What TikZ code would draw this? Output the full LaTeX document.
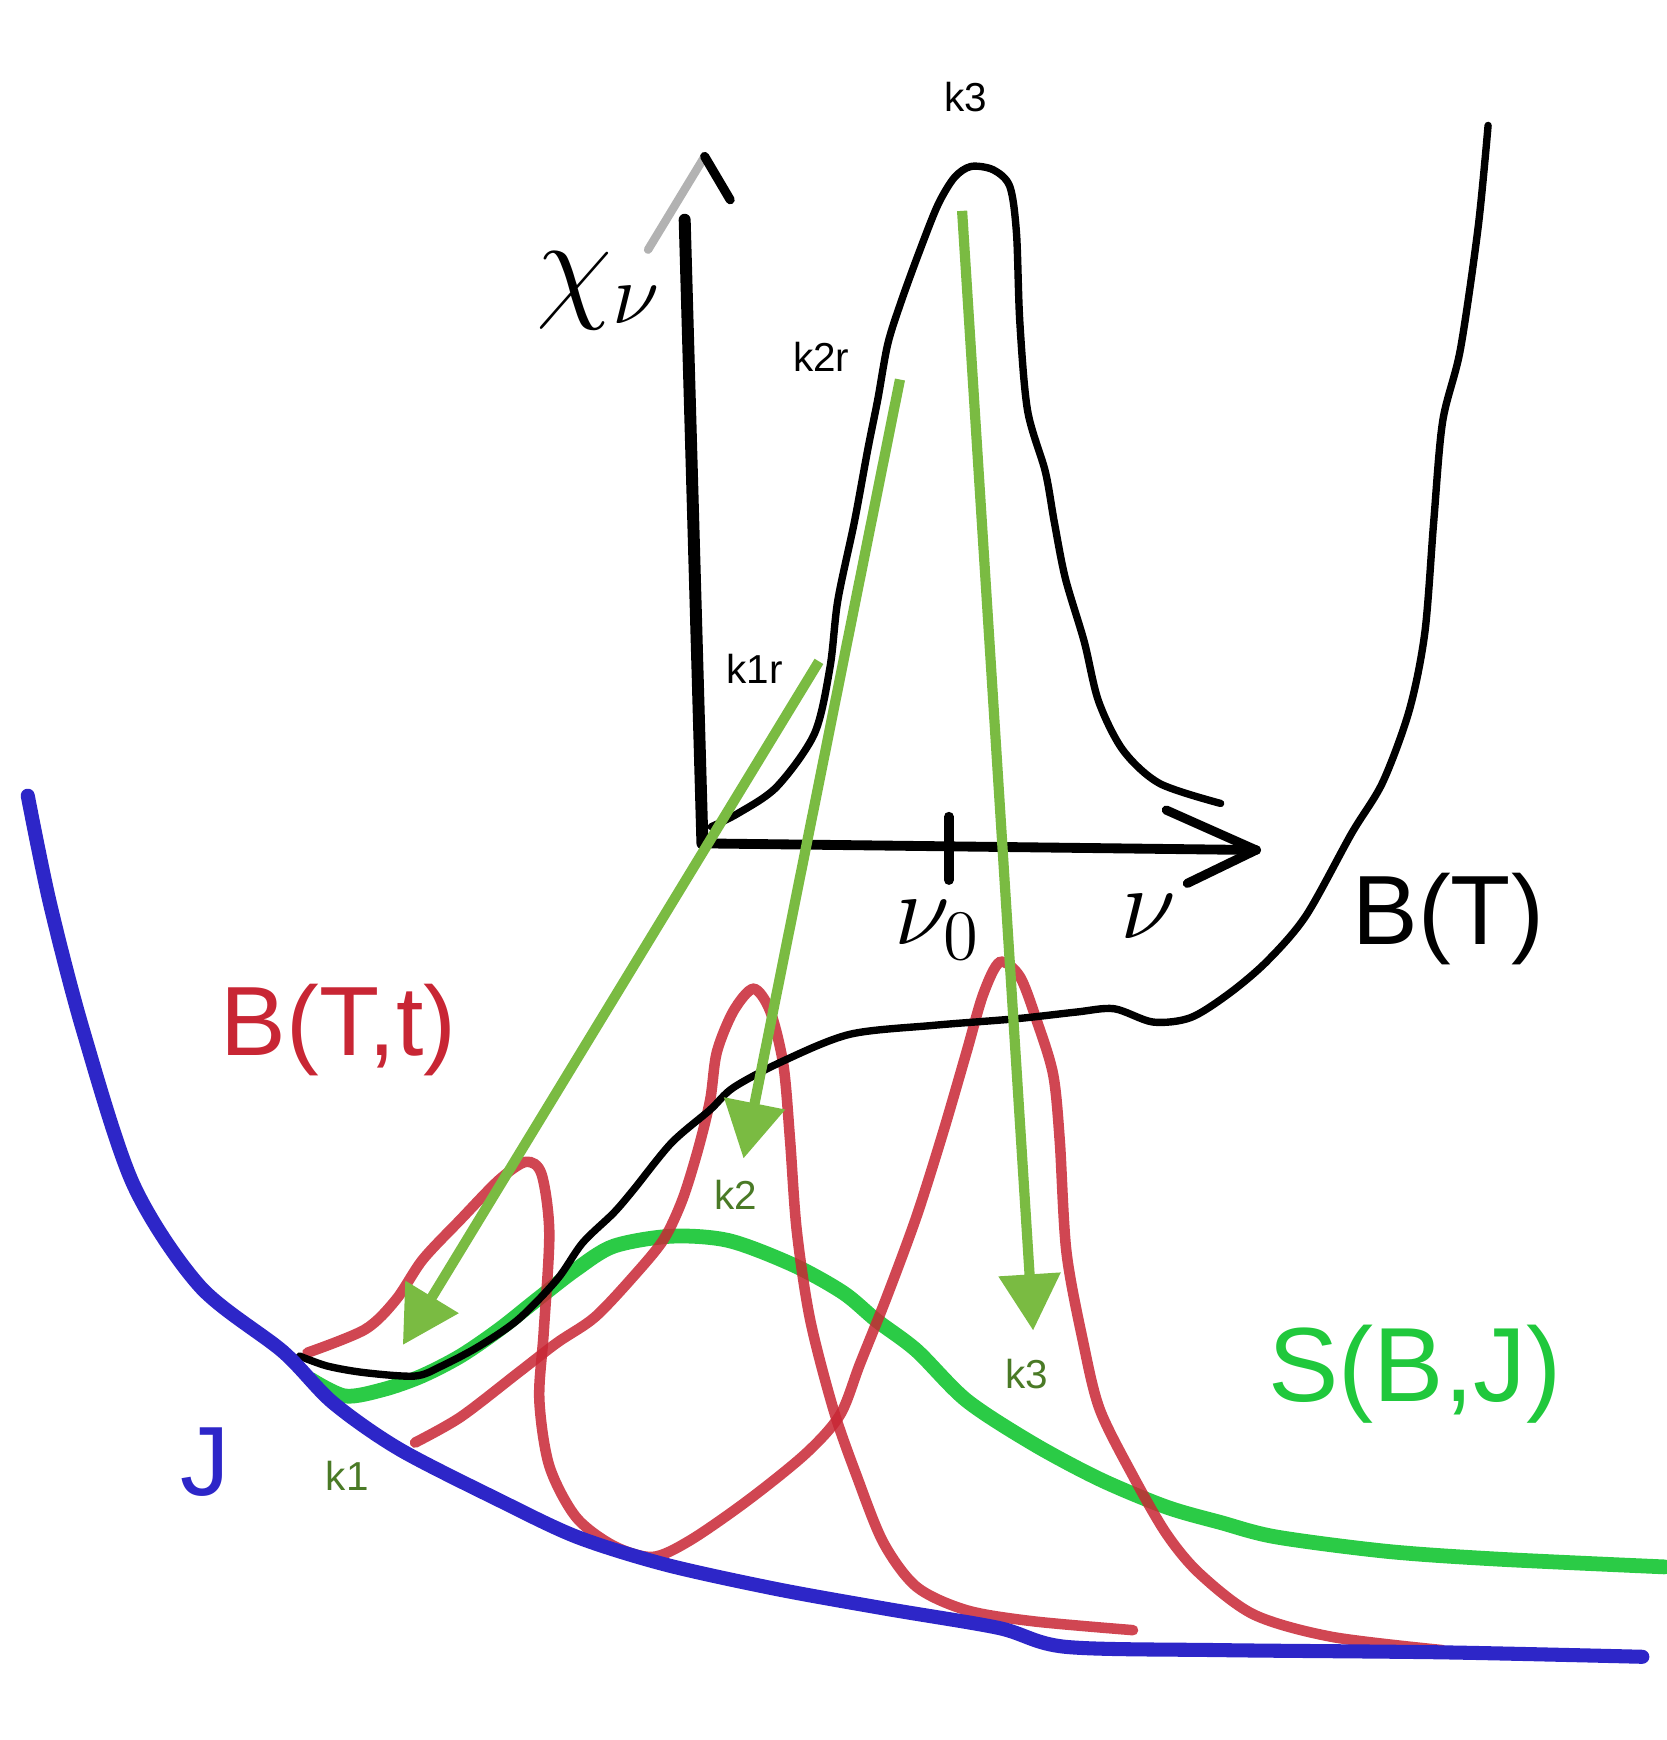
\documentclass[tikz,border=0pt]{standalone}
\usepackage{fontspec}
\setmainfont{Liberation Sans}
\usetikzlibrary{arrows.meta}
\definecolor{jblue}{RGB}{45,38,200}
\definecolor{bred}{RGB}{200,38,52}
\definecolor{sgreen}{RGB}{32,200,60}
\definecolor{agreen}{RGB}{122,187,66}
\definecolor{kgreen}{RGB}{74,122,38}
\begin{document}
\begin{tikzpicture}[x=0.011098cm,y=-0.011098cm,
  axisline/.style={line width=3.4pt, line cap=round, line join=round},
  thincurve/.style={line width=2.1pt, line cap=round, line join=round},
  jcurve/.style={draw=jblue, line width=4pt, line cap=round},
  scurve/.style={draw=sgreen, line width=4.2pt, line cap=round, opacity=0.95},
  rcurve/.style={draw=bred, line width=3pt, line cap=round, opacity=0.85},
  karrow/.style={draw=agreen, line width=2.9pt, -{Triangle[length=16pt,width=17pt]}},
  klabel/.style={inner sep=0pt, font=\fontsize{11.5}{13}\selectfont},
  kglabel/.style={inner sep=0pt, text=kgreen, font=\fontsize{11.5}{13}\selectfont},
  biglabel/.style={inner sep=0pt, font=\fontsize{28}{32}\selectfont},
  hand/.style={inner sep=0pt}]
\useasboundingbox (0,0) rectangle (1502,1568);

% ---- S(B,J) green curve
\draw[scurve] plot[smooth] coordinates {(280,1243) (311,1258) (346,1252) (380,1240) (415,1222) (450,1198) (484,1171) (519,1144) (553,1123) (605,1114) (657,1118) (715,1140) (760,1165) (790,1190) (826,1217) (871,1262) (931,1301) (991,1333) (1051,1358) (1100,1372) (1150,1385) (1250,1398) (1350,1405) (1500,1412)};

% ---- red B(T,t) profiles
\draw[rcurve] plot[smooth] coordinates {(277,1219) (329,1198) (357,1171) (381,1135) (415,1099) (450,1063) (474,1047) (488,1058) (495,1111) (490,1200) (486,1261) (495,1321) (519,1367) (553,1393) (588,1403) (622,1388) (674,1352) (726,1310) (757,1275) (775,1229) (799,1169) (826,1096) (850,1020) (871,948) (886,896) (901,867) (919,880) (934,919) (949,968) (955,1028) (961,1128) (976,1209) (991,1270) (1021,1330) (1051,1382) (1081,1418) (1130,1455) (1200,1475) (1300,1487)};
\draw[rcurve] plot[smooth] coordinates {(374,1300) (415,1277) (467,1237) (502,1210) (536,1187) (571,1150) (598,1117) (615,1081) (629,1036) (640,991) (646,948) (661,911) (679,891) (694,911) (706,960) (712,1028) (718,1109) (730,1189) (751,1270) (772,1330) (796,1390) (826,1430) (871,1451) (931,1461) (1021,1469)};

% ---- B(T) black curve
\draw[thincurve] plot[smooth] coordinates {(270,1222) (295,1231) (329,1237) (374,1240) (398,1231) (432,1213) (467,1189) (502,1153) (525,1120) (553,1093) (571,1072) (605,1030) (640,1000) (661,980) (706,956) (766,932) (841,924) (916,918) (970,912) (1004,909) (1039,921) (1073,917) (1108,895) (1142,866) (1177,825) (1218,751) (1246,705) (1270,640) (1284,570) (1292,470) (1300,380) (1316,315) (1332,205) (1341,113)};

% ---- J blue curve
\draw[jcurve] plot[smooth] coordinates {(25,717) (45,814) (75,929) (120,1067) (180,1159) (255,1218) (300,1264) (360,1306) (450,1352) (520,1385) (600,1410) (700,1432) (800,1450) (900,1467) (960,1484) (1100,1487) (1300,1489) (1480,1493)};

% ---- axes
\coordinate (O) at (633,760);
\coordinate (Ytop) at (617,198);
\coordinate (Ytip) at (635,141);
\coordinate (Yl) at (584,225);
\coordinate (Yr) at (658,180);
\coordinate (Xend) at (1132,766);
\coordinate (Xu) at (1051,730);
\coordinate (Xl) at (1070,796);
\coordinate (T1) at (855,736);
\coordinate (T2) at (855,793);
\draw[axisline] (Ytop) -- (O);
\draw[axisline, line width=2.8pt] (O) -- (Xend);
\draw[axisline, line width=2.4pt, draw=gray!60] (Yl) -- (Ytip);
\draw[axisline, line width=2.6pt] (Ytip) -- (Yr);
\draw[axisline, line width=2.6pt] (Xu) -- (Xend) -- (Xl);
\draw[axisline, line width=2.8pt] (T1) -- (T2);

% ---- chi_nu profile
\draw[thincurve] plot[smooth] coordinates {(641,745) (665,733) (700,709) (734,661) (748,601) (755,541) (770,470) (782,405) (791,360) (800,310) (812,272) (828,228) (845,185) (860,160) (875,150) (895,153) (910,168) (916,210) (919,290) (926,370) (942,425) (950,470) (960,521) (977,578) (990,632) (1012,676) (1045,706) (1100,724)};

% ---- labels
\node[hand, scale=1.7] (chi) at (540,262) {\huge$\chi_\nu$};
\node[hand, scale=1.4] (nu0) at (845,838) {\huge$\nu_0$};
\node[hand, scale=1.4] (nu) at (1035,826) {\huge$\nu$};

\node[klabel] (k3r) at (870,87) {k3};
\node[klabel] (k2r) at (740,322) {k2r};
\node[klabel] (k1r) at (680,603) {k1r};
\node[kglabel] (k2) at (663,1077) {k2};
\node[kglabel] (k3) at (925,1238) {k3};
\node[kglabel] (k1) at (313,1330) {k1};

\node[biglabel] (BT) at (1305,828) {B(T)};
\node[biglabel, text=bred] (BTt) at (305,928) {B(T,t)};
\node[biglabel, text=sgreen, font=\fontsize{30}{34}\selectfont] (SBJ) at (1275,1238) {S(B,J)};
\node[biglabel, text=jblue] (J) at (185,1318) {J};

% ---- green arrows
\coordinate (a3s) at (867,190);
\coordinate (a3e) at (931,1199);
\coordinate (a2s) at (811,342);
\coordinate (a2e) at (670,1044);
\coordinate (a1s) at (738,596);
\coordinate (a1e) at (363,1212);
\draw[karrow] (a3s) -- (a3e);
\draw[karrow] (a2s) -- (a2e);
\draw[karrow] (a1s) -- (a1e);
\end{tikzpicture}
\end{document}
